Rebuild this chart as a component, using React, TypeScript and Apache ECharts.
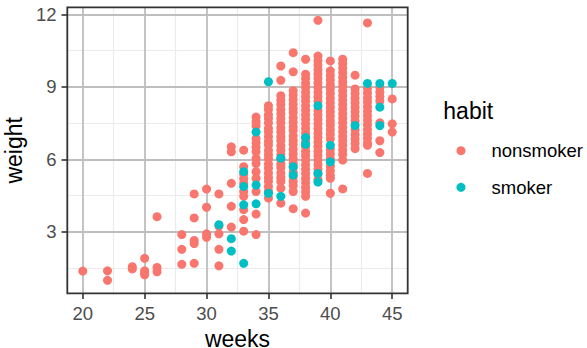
import React, { useEffect, useRef } from "react";
import * as echarts from "echarts";

// Gestation length (weeks) vs birth weight (lbs), split by the mother's smoking habit.
const nonsmoker: [number, number[]][] = [
  [20, [1.38]],
  [22, [1.39, 1.0]],
  [24, [1.47, 1.56]],
  [25, [1.91, 1.39, 1.23, 1.31]],
  [26, [3.63, 1.53, 1.35]],
  [28, [2.89, 2.28, 1.66]],
  [29, [4.57, 3.58, 2.65, 2.52, 1.7]],
  [30, [4.77, 4.02, 2.92, 2.78]],
  [31, [4.57, 3.24, 2.92, 2.28, 1.6]],
  [32, [6.52, 6.31, 5.01, 4.06, 3.2]],
  [33, [6.38, 5.7, 5.38, 5.2, 5.01, 4.67, 4.47, 3.92, 3.51, 3.03]],
  [34, [7.75, 7.56, 7.38, 6.86, 6.69, 6.5, 6.31, 6.04, 5.83, 5.49, 5.22, 4.67, 3.74, 2.89]],
  [35, [8.22, 8.06, 7.85, 7.69, 7.5, 7.28, 7.13, 6.94, 6.75, 6.59, 6.38, 6.19, 6.03, 5.81, 5.63, 5.44, 5.25, 5.09, 4.88, 4.69, 4.4]],
  [36, [9.86, 9.27, 8.63, 8.44, 8.27, 8.06, 7.88, 7.69, 7.52, 7.31, 7.13, 6.94, 6.78, 6.56, 6.38, 6.19, 6.0, 5.81, 5.66, 5.44, 5.25, 5.08, 4.81, 4.19]],
  [37, [10.41, 9.62, 8.84, 8.66, 8.47, 8.28, 8.09, 7.94, 7.72, 7.53, 7.34, 7.19, 6.97, 6.78, 6.61, 6.41, 6.22, 6.03, 5.84, 5.66, 5.47, 5.28, 5.09, 4.91, 4.67, 3.96]],
  [38, [10.14, 9.52, 9.34, 9.15, 8.97, 8.78, 8.59, 8.41, 8.22, 8.03, 7.84, 7.66, 7.47, 7.28, 7.09, 6.91, 6.72, 6.53, 6.34, 6.16, 5.97, 5.78, 5.59, 5.41, 5.22, 5.03, 4.84, 4.66, 4.47, 3.78]],
  [39, [11.75, 10.27, 10.08, 9.9, 9.71, 9.53, 9.34, 9.16, 8.97, 8.78, 8.59, 8.41, 8.03, 7.84, 7.66, 7.47, 7.28, 7.09, 6.91, 6.72, 6.53, 6.34, 6.16, 5.97, 5.78, 5.59, 5.41, 5.16]],
  [40, [10.07, 9.66, 9.47, 9.28, 9.09, 8.91, 8.72, 8.53, 8.34, 8.16, 7.97, 7.78, 7.59, 7.41, 7.22, 7.03, 6.84, 6.41, 6.22, 6.03, 5.72, 5.53, 5.34, 5.22, 4.6]],
  [41, [10.14, 9.96, 9.77, 9.58, 9.39, 9.2, 9.02, 8.83, 8.64, 8.45, 8.27, 8.08, 7.89, 7.7, 7.52, 7.33, 7.14, 6.95, 6.77, 6.58, 6.39, 6.2, 5.97, 4.78]],
  [42, [9.48, 8.91, 8.72, 8.53, 8.34, 8.16, 7.97, 7.78, 7.59, 7.22, 7.03, 6.84, 6.66, 6.45]],
  [43, [11.64, 8.93, 8.74, 8.55, 8.37, 8.18, 7.99, 7.8, 7.62, 7.43, 7.24, 7.05, 6.87, 6.68, 6.58, 5.42]],
  [44, [8.98, 8.79, 8.6, 8.41, 7.51, 6.77, 6.28]],
  [45, [8.5, 7.47, 7.13]],
];

const smoker: [number, number[]][] = [
  [31, [3.3]],
  [32, [2.72, 2.21]],
  [33, [5.49, 4.88, 4.12, 1.7]],
  [34, [7.13, 4.94, 4.16]],
  [35, [9.21, 4.6]],
  [36, [6.05, 4.47]],
  [37, [5.7, 5.35]],
  [38, [6.9, 6.62]],
  [39, [8.22, 5.42, 5.06]],
  [40, [6.58, 5.9]],
  [42, [7.4]],
  [43, [9.14]],
  [44, [9.14, 8.16, 7.4]],
  [45, [9.14]],
];

const habits = ["nonsmoker", "smoker"];
const habitColors = ["#F8766D", "#00BFC4"];

const xTicks = [20, 25, 30, 35, 40, 45];
const xMinor = [22.5, 27.5, 32.5, 37.5, 42.5];
const yTicks = [3, 6, 9, 12];
const yMinor = [1.5, 4.5, 7.5, 10.5];

const FONT = "'Liberation Sans', Arial, Helvetica, sans-serif";

const toPoints = (groups: [number, number[]][]) =>
  groups.flatMap(([w, ws]) => ws.map((v) => [w, v]));

// panel box in pixels
const PANEL = { left: 67.3, top: 7.3, right: 407.7, bottom: 293.3 };

export default function App() {
  const ref = useRef<HTMLDivElement>(null);

  useEffect(() => {
    document.body.style.margin = "0";
    if (!ref.current) return;
    const chart = echarts.init(ref.current, undefined, { renderer: "svg" });

    const major = { color: "#BEBEBE", width: 1.8, type: "solid" as const };
    const minor = { color: "#EBEBEB", width: 1.1, type: "solid" as const };
    const gridLines = [
      ...xMinor.map((v) => ({ xAxis: v, lineStyle: minor })),
      ...yMinor.map((v) => ({ yAxis: v, lineStyle: minor })),
      ...xTicks.map((v) => ({ xAxis: v, lineStyle: major })),
      ...yTicks.map((v) => ({ yAxis: v, lineStyle: major })),
    ];

    const axisCommon = {
      type: "value" as const,
      scale: true,
      splitLine: { show: false },
      axisLine: { show: false },
      nameLocation: "middle" as const,
    };

    chart.setOption({
      animation: false,
      title: {
        text: "habit",
        left: 443.3,
        top: 99,
        padding: 0,
        textStyle: { fontSize: 23, fontWeight: "normal", color: "#000000", fontFamily: FONT },
      },
      legend: {
        data: habits,
        orient: "vertical",
        left: 456.5,
        top: 140.7,
        padding: 0,
        itemWidth: 9,
        itemHeight: 9,
        itemGap: 16.6,
        icon: "circle",
        selectedMode: false,
        textStyle: { fontSize: 18.5, lineHeight: 20, color: "#000000", fontFamily: FONT, padding: [0, 0, 0, 21] },
      },
      grid: {
        left: PANEL.left,
        top: PANEL.top,
        right: 587 - PANEL.right,
        bottom: 348 - PANEL.bottom,
        containLabel: false,
        outerBoundsMode: "none",
      },
      xAxis: {
        ...axisCommon,
        min: 18.75,
        max: 46.25,
        name: "weeks",
        nameGap: 36.5,
        nameTextStyle: { fontSize: 23, lineHeight: 18, color: "#000000", fontFamily: FONT },
        axisTick: { show: true, length: 5.8, customValues: xTicks, lineStyle: { color: "#333333", width: 1.6 } },
        axisLabel: { customValues: xTicks, margin: 10.4, fontSize: 18.5, color: "#4D4D4D", fontFamily: FONT },
      },
      yAxis: {
        ...axisCommon,
        min: 0.4625,
        max: 12.2875,
        name: "weight",
        nameGap: 36,
        nameTextStyle: { fontSize: 23, color: "#000000", fontFamily: FONT },
        axisTick: { show: true, length: 5.8, customValues: yTicks, lineStyle: { color: "#333333", width: 1.6 } },
        axisLabel: { customValues: yTicks, margin: 10.8, fontSize: 18.5, color: "#4D4D4D", fontFamily: FONT },
      },
      graphic: [
        {
          id: "panel-border",
          type: "rect",
          z: 100,
          silent: true,
          shape: {
            x: PANEL.left,
            y: PANEL.top,
            width: PANEL.right - PANEL.left,
            height: PANEL.bottom - PANEL.top,
          },
          style: { fill: "none", stroke: "#333333", lineWidth: 1.8 },
        },
      ],
      series: [
        {
          name: "grid-lines",
          type: "scatter",
          data: [],
          silent: true,
          z: 1,
          markLine: {
            silent: true,
            z: 1,
            animation: false,
            symbol: ["none", "none"],
            label: { show: false },
            emphasis: { disabled: true },
            lineStyle: { type: "solid" },
            data: gridLines,
          },
        },
        ...[nonsmoker, smoker].map((groups, i) => ({
          name: habits[i],
          type: "scatter",
          z: 2,
          symbol: "circle",
          symbolSize: 9,
          itemStyle: { color: habitColors[i], opacity: 1 },
          emphasis: { disabled: true },
          data: toPoints(groups),
        })),
      ],
    });

    return () => chart.dispose();
  }, []);

  return <div ref={ref} style={{ width: 587, height: 348 }} />;
}
